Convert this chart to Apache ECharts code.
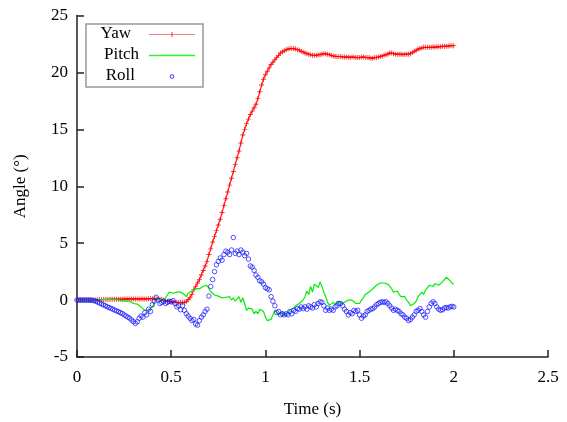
<!DOCTYPE html>
<html>
<head>
<meta charset="utf-8">
<script src="https://cdn.jsdelivr.net/npm/echarts@6/dist/echarts.min.js"></script>
<style>
html,body{margin:0;padding:0;background:#fff;}
#chart{width:567px;height:422px;}
</style>
</head>
<body>
<div id="chart"></div>
<script>
var seriesNames = ['Yaw', 'Pitch', 'Roll'];
var xTicks = [0, 0.5, 1, 1.5, 2, 2.5];
var yTicks = [-5, 0, 5, 10, 15, 20, 25];
var timeStep = 0.01; // sampling interval (s), values start at t = 0

var yaw = [
0,0,0,0,0,0,0,0,0,0,
0,0.02,0.03,0.04,0.05,0.05,0.06,0.06,0.07,0.07,
0.07,0.08,0.08,0.08,0.08,0.09,0.09,0.09,0.1,0.1,
0.1,0.1,0.1,0.1,0.1,0.1,0.1,0.1,0.12,0.12,
0.12,0.12,0.12,0.1,0.08,0.05,0.0,-0.05,-0.1,-0.12,
-0.15,-0.18,-0.2,-0.2,-0.2,-0.2,-0.22,-0.2,-0.15,0.05,
0.2,0.5,0.9,1.2,1.5,1.8,2.2,2.6,3.0,3.4,
4.0,4.5,5.1,5.6,6.1,6.6,7.1,7.7,8.3,8.9,
9.5,10.1,10.7,11.3,11.9,12.5,13.1,13.8,14.5,15.0,
15.5,15.9,16.3,16.6,16.9,17.2,17.7,18.3,18.9,19.4,
19.8,20.1,20.4,20.7,20.9,21.1,21.3,21.5,21.7,21.8,
21.9,22.0,22.05,22.1,22.1,22.1,22.05,22.0,21.95,21.85,
21.8,21.7,21.65,21.6,21.55,21.5,21.5,21.5,21.55,21.55,
21.6,21.65,21.65,21.6,21.55,21.5,21.45,21.4,21.4,21.4,
21.4,21.35,21.35,21.35,21.35,21.3,21.35,21.35,21.3,21.3,
21.3,21.35,21.35,21.3,21.3,21.3,21.25,21.25,21.3,21.3,
21.35,21.4,21.45,21.5,21.55,21.6,21.7,21.7,21.65,21.6,
21.6,21.6,21.6,21.55,21.6,21.6,21.6,21.65,21.75,21.85,
21.95,22.05,22.1,22.15,22.2,22.2,22.2,22.2,22.2,22.25,
22.2,22.25,22.25,22.25,22.3,22.3,22.3,22.3,22.35,22.35,22.35
];

var pitch = [
0,0,0,0,0,0,0,0,0,0,
0,0,0.02,0.03,0.04,0.05,0.05,0.05,0.05,0.06,
0.05,0.03,0.02,0.0,-0.05,-0.1,-0.1,-0.08,-0.1,-0.15,
-0.3,-0.25,-0.35,-0.5,-0.6,-0.7,-0.9,-1.0,-0.85,-0.95,
-0.6,-0.3,0.1,0.0,0.05,0.1,0.0,0.2,0.45,0.7,
0.75,0.6,0.65,0.7,0.55,0.7,0.6,0.5,0.3,0.6,
0.7,0.8,0.9,1.0,0.95,1.0,1.1,1.2,1.2,1.3,
1.2,0.75,0.6,0.45,0.5,0.35,0.4,0.2,0.3,0.25,
0.2,0.3,0.0,0.2,-0.1,0.1,0.3,-0.2,0.2,-0.3,
-0.9,-0.7,-0.6,-0.8,-1.2,-1.0,-1.2,-0.8,-0.7,-1.0,
-1.5,-1.8,-1.9,-1.7,-1.3,-0.9,-1.1,-1.3,-1.2,-1.0,
-1.3,-1.2,-1.1,-0.9,-1.0,-0.7,-0.5,-0.6,-0.3,-0.3,
0.0,0.3,0.8,0.5,1.2,0.7,1.4,1.5,1.1,1.6,
1.2,0.7,0.3,-0.2,-0.45,-0.3,-0.2,-0.4,-0.1,-0.15,
-0.3,-0.45,-0.2,-0.3,0.0,0.15,0.0,-0.1,-0.3,-0.2,
-0.3,0.0,0.2,0.5,0.4,0.7,0.8,1.0,1.1,1.3,
1.4,1.5,1.6,1.5,1.6,1.4,1.4,1.0,0.7,0.6,
0.8,0.5,0.3,0.15,0.3,0.0,-0.2,-0.5,-0.6,-0.3,
-0.1,0.3,0.5,0.7,0.5,0.9,1.1,1.3,1.4,1.2,
1.45,1.5,1.3,1.4,1.6,1.8,2.0,2.1,1.7,1.5,1.4
];

var roll = [
0,0,0,0,0,0,0,0,-0.02,-0.05,
-0.1,-0.18,-0.26,-0.34,-0.42,-0.5,-0.58,-0.66,-0.72,-0.8,
-0.88,-0.95,-1.02,-1.1,-1.18,-1.3,-1.4,-1.5,-1.6,-1.75,
-1.9,-2.05,-1.9,-1.6,-1.4,-1.5,-1.1,-1.3,-0.8,-1.0,
-0.4,-0.1,0.25,0.0,-0.3,-0.2,-0.1,-0.3,-0.2,-0.1,
-0.15,-0.05,-0.3,-0.6,-0.5,-0.85,-0.5,-0.9,-1.2,-1.4,
-1.6,-1.8,-1.7,-2.1,-2.2,-1.8,-1.5,-1.3,-1.0,-0.8,
0.35,1.2,1.8,2.5,3.1,3.4,3.7,3.5,4.0,4.3,
4.2,4.0,4.4,5.5,4.1,4.3,4.0,4.4,4.2,3.9,
4.1,3.6,3.0,2.9,2.6,2.2,2.0,1.7,1.6,1.4,
1.1,1.0,0.9,0.3,-0.1,-0.5,-1.1,-1.0,-1.3,-1.2,
-1.3,-1.2,-1.3,-1.0,-1.2,-0.9,-1.0,-0.75,-0.8,-0.6,
-0.75,-0.6,-0.8,-0.5,-0.6,-0.7,-0.4,-0.6,-0.3,-0.15,
-0.2,-0.5,-0.9,-0.7,-0.9,-0.8,-0.9,-0.6,-0.5,-0.3,
-0.3,-0.5,-0.8,-1.0,-1.3,-1.1,-1.2,-0.9,-1.0,-0.9,
-1.3,-1.6,-1.4,-1.3,-1.0,-0.9,-0.8,-0.75,-0.6,-0.4,
-0.3,-0.2,-0.15,-0.2,-0.15,-0.3,-0.5,-0.7,-0.9,-0.8,
-0.9,-1.0,-1.2,-1.3,-1.5,-1.6,-1.8,-1.7,-1.5,-1.3,
-1.0,-0.9,-0.75,-1.0,-1.3,-1.5,-1.0,-0.6,-0.3,-0.15,
-0.3,-0.6,-0.8,-0.9,-0.85,-0.7,-0.65,-0.7,-0.6,-0.55,-0.6
];

function pairs(vals) {
  return vals.map(function (v, i) { return [Math.round(i * timeStep * 100) / 100, v]; });
}

var FONT = '"Liberation Serif", "DejaVu Serif", serif';
var plusPath = 'path://M-0.18,-1H0.18V-0.18H1V0.18H0.18V1H-0.18V0.18H-1V-0.18H-0.18Z';

var chart = echarts.init(document.getElementById('chart'), null, {renderer: 'canvas'});
var option = {
  animation: false,
  backgroundColor: '#ffffff',
  grid: {left: 77, right: 19, top: 15.5, bottom: 65, containLabel: false, outerBoundsMode: 'none'},
  xAxis: {
    type: 'value', min: xTicks[0], max: xTicks[xTicks.length - 1], interval: 0.5,
    name: 'Time (s)', nameLocation: 'middle', nameGap: 44,
    nameTextStyle: {fontFamily: FONT, fontSize: 17, color: '#000'},
    axisLine: {onZero: false, lineStyle: {color: '#222', width: 1.5}},
    axisTick: {inside: true, length: 7, lineStyle: {color: '#222', width: 1.5}},
    axisLabel: {fontFamily: FONT, fontSize: 17, color: '#000', margin: 12},
    splitLine: {show: false}
  },
  yAxis: {
    type: 'value', min: yTicks[0], max: yTicks[yTicks.length - 1], interval: 5,
    name: 'Angle (°)', nameLocation: 'middle', nameGap: 48, nameRotate: 90,
    nameTextStyle: {fontFamily: FONT, fontSize: 17, color: '#000'},
    axisLine: {show: true, onZero: false, lineStyle: {color: '#222', width: 1.5}},
    axisTick: {show: true, inside: true, length: 7, lineStyle: {color: '#222', width: 1.5}},
    axisLabel: {fontFamily: FONT, fontSize: 17, color: '#000', margin: 9},
    splitLine: {show: false}
  },
  series: [
    {
      name: seriesNames[0], type: 'line', data: pairs(yaw),
      showSymbol: true, symbol: plusPath, symbolSize: 5,
      itemStyle: {color: '#ff0000', opacity: 0.8},
      lineStyle: {color: '#ff2020', width: 1.2}, z: 2
    },
    {
      name: seriesNames[1], type: 'line', data: pairs(pitch),
      showSymbol: false, lineStyle: {color: '#00ee00', width: 1.2}, z: 3
    },
    {
      name: seriesNames[2], type: 'scatter', data: pairs(roll),
      symbol: 'circle', symbolSize: 4.5,
      itemStyle: {color: 'rgba(255,255,255,0)', borderColor: '#1a1aff', borderWidth: 1, opacity: 0.75}, z: 4
    }
  ],
  graphic: [
    {type: 'rect', shape: {x: 86, y: 24, width: 117, height: 63}, style: {fill: '#fff', stroke: '#999', lineWidth: 1.5}, z: 10},
    {type: 'text', style: {text: seriesNames[0], x: 131, y: 34, align: 'right', verticalAlign: 'middle', font: '17px ' + FONT, fill: '#000'}, z: 11},
    {type: 'text', style: {text: seriesNames[1], x: 139, y: 55, align: 'right', verticalAlign: 'middle', font: '17px ' + FONT, fill: '#000'}, z: 11},
    {type: 'text', style: {text: seriesNames[2], x: 135, y: 76, align: 'right', verticalAlign: 'middle', font: '17px ' + FONT, fill: '#000'}, z: 11},
    {type: 'line', shape: {x1: 149, y1: 34.5, x2: 195, y2: 34.5}, style: {stroke: '#ff8080', lineWidth: 1.2}, z: 11},
    {type: 'line', shape: {x1: 172, y1: 32, x2: 172, y2: 37}, style: {stroke: '#ff3030', lineWidth: 1}, z: 11},
    {type: 'line', shape: {x1: 149, y1: 55.5, x2: 195, y2: 55.5}, style: {stroke: '#33ee33', lineWidth: 1.3}, z: 11},
    {type: 'circle', shape: {cx: 172, cy: 76.5, r: 1.8}, style: {fill: 'none', stroke: '#3333ff', lineWidth: 1}, z: 11}
  ]
};
chart.setOption(option);
</script>
</body>
</html>
